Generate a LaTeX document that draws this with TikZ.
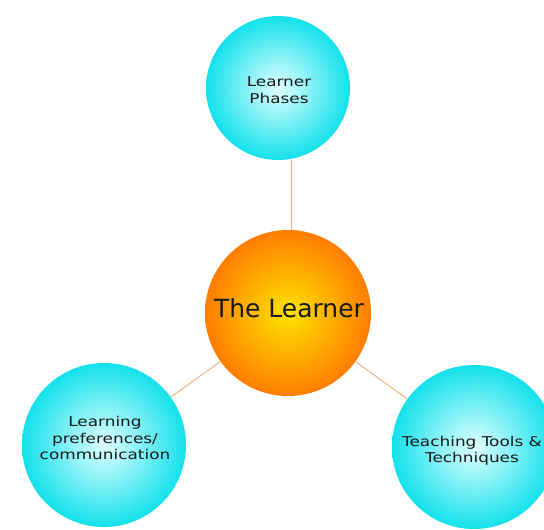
\documentclass[tikz,border=0pt]{standalone}
\usepackage{fontspec}
\setmainfont{DejaVu Sans}
\newfontfamily\widefont[FakeStretch=1.25]{DejaVu Sans}
\begin{document}
\begin{tikzpicture}[x=1pt,y=-1pt,
  bubble/.style={circle, inner sep=0pt},
  cyanball/.style={bubble, minimum size=164pt, inner color=cyan!12!white, outer color={rgb,255:red,20;green,225;blue,235}},
  orangeball/.style={bubble, minimum size=166pt, inner color={rgb,255:red,255;green,228;blue,0}, outer color={rgb,255:red,255;green,125;blue,0}},
  link/.style={draw={rgb,255:red,235;green,175;blue,120}, line width=0.9pt},
  small/.style={align=center, text=black!90, font=\widefont\fontsize{13.5}{16.5}\selectfont},
  big/.style={align=center, text=black!90, font=\fontsize{25}{30}\selectfont}]
\useasboundingbox (0,0) rectangle (544,530);
\clip (0,0) rectangle (544,530);
\fill[white] (0,0) rectangle (544,530);
\node[cyanball, minimum size=144pt] (top) at (278,88) {};
\node[orangeball] (learner) at (288,313) {};
\node[cyanball] (left) at (104,445) {};
\node[cyanball] (right) at (474,447) {};
\node[small] (toptext) at (279,90) {Learner\\Phases};
\node[big] (learnertext) at (289,308) {The Learner};
\node[small] (lefttext) at (105,438) {Learning\\preferences/\\communication};
\node[small] (righttext) at (472,451) {Teaching Tools \&\\Techniques};
\draw[link] ([xshift=3pt]learner.north) -- ([xshift=3pt]learner.north |- top.south);
\draw[link] (learner) -- (left);
\draw[link] (learner) -- (right);
\end{tikzpicture}
\end{document}
